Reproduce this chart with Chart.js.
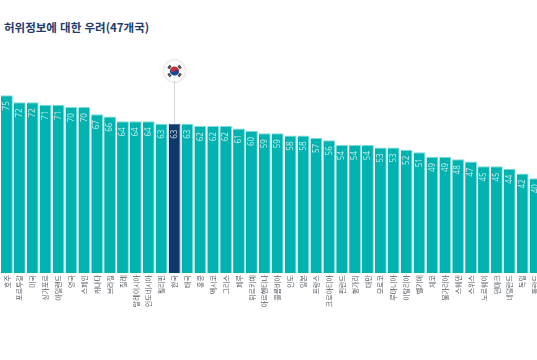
<!DOCTYPE html>
<html lang="ko">
<head>
<meta charset="utf-8">
<style>
html,body{margin:0;padding:0;width:537px;height:360px;overflow:hidden;background:#fff}
#wrap{position:relative;width:537px;height:360px;overflow:hidden}
h1{position:absolute;left:4px;top:19px;margin:0;font:700 11.5px/16px "Noto Sans CJK KR",sans-serif;color:#1f3a6e;white-space:nowrap}
canvas{position:absolute;left:0;top:0}
</style>
<script src="https://cdn.jsdelivr.net/npm/chart.js@4"></script>
</head>
<body>
<div id="wrap">
<h1>허위정보에 대한 우려(47개국)</h1>
<canvas id="c" width="542" height="360" style="width:542px;height:360px"></canvas>
</div>
<script>
const categories = ['호주','포르투갈','미국','싱가포르','아일랜드','영국','스페인','캐나다','브라질','칠레','말레이시아','인도네시아','필리핀','한국','태국','홍콩','멕시코','그리스','페루','튀르키예','아르헨티나','콜롬비아','인도','일본','프랑스','크로아티아','핀란드','헝가리','대만','모로코','루마니아','이탈리아','벨기에','체코','불가리아','스웨덴','스위스','노르웨이','덴마크','네덜란드','독일','폴란드'];
const values = [75,72,72,71,71,70,70,67,66,64,64,64,63,63,63,62,62,62,61,60,59,59,58,58,57,56,54,54,54,53,53,52,51,49,49,48,47,45,45,44,42,40];
const highlight = '한국';
const TEAL = '#00b3b0', NAVY = '#0d3a6a';

const barLabels = {
  id:'barLabels',
  afterDatasetsDraw(chart){
    const {ctx} = chart, meta = chart.getDatasetMeta(0);
    ctx.save();
    ctx.font = '8px "Noto Sans", sans-serif';
    ctx.fillStyle = 'rgba(255,255,255,0.75)';
    ctx.textAlign = 'right';
    ctx.textBaseline = 'middle';
    meta.data.forEach((bar,i)=>{
      ctx.save();
      ctx.translate(bar.x, bar.y + 6);
      ctx.rotate(-Math.PI/2);
      ctx.fillText(String(values[i]), 0, 0);
      ctx.restore();
    });
    ctx.restore();
  }
};

const flagMarker = {
  id:'flagMarker',
  afterDatasetsDraw(chart){
    const {ctx} = chart, meta = chart.getDatasetMeta(0);
    const bar = meta.data[categories.indexOf(highlight)];
    const x = bar.x, cy = 71, r = 10.5;
    ctx.save();
    ctx.strokeStyle = '#d5d7da';
    ctx.lineWidth = 1;
    ctx.beginPath(); ctx.moveTo(x, cy + r); ctx.lineTo(x, bar.y); ctx.stroke();
    ctx.shadowColor = 'rgba(0,0,0,0.25)'; ctx.shadowBlur = 3;
    ctx.fillStyle = '#fff';
    ctx.beginPath(); ctx.arc(x, cy, r, 0, Math.PI*2); ctx.fill();
    ctx.shadowBlur = 0;
    const t = 4.6, a = Math.atan2(2,3);
    ctx.translate(x, cy);
    ctx.save();
    ctx.rotate(a);
    ctx.fillStyle = '#cd2e3a';
    ctx.beginPath(); ctx.arc(0,0,t,Math.PI,0); ctx.fill();
    ctx.fillStyle = '#0f4c9c';
    ctx.beginPath(); ctx.arc(0,0,t,0,Math.PI); ctx.fill();
    ctx.fillStyle = '#cd2e3a';
    ctx.beginPath(); ctx.arc(-t/2,0,t/2,0,Math.PI*2); ctx.fill();
    ctx.fillStyle = '#0f4c9c';
    ctx.beginPath(); ctx.arc(t/2,0,t/2,0,Math.PI*2); ctx.fill();
    ctx.restore();
    ctx.strokeStyle = '#333';
    ctx.lineWidth = 1.1;
    [[-1,-1],[1,-1],[-1,1],[1,1]].forEach(([sx,sy])=>{
      ctx.save();
      ctx.rotate(Math.atan2(sy*5,sx*6.4));
      [5.9,7.1].forEach(d=>{
        ctx.beginPath(); ctx.moveTo(d,-1.9); ctx.lineTo(d,1.9); ctx.stroke();
      });
      ctx.restore();
    });
    ctx.restore();
  }
};

new Chart(document.getElementById('c'),{
  type:'bar',
  data:{
    labels:categories,
    datasets:[{
      data:values,
      backgroundColor:categories.map(c=>c===highlight?NAVY:TEAL),
      borderColor:categories.map(c=>c===highlight?'#2f5c8c':'#7fdcd8'),
      borderWidth:{top:1,right:1,left:0,bottom:0},
      borderSkipped:false,
      categoryPercentage:1,
      barPercentage:0.92
    }]
  },
  plugins:[barLabels,flagMarker],
  options:{
    responsive:false,
    animation:false,
    devicePixelRatio:1,
    layout:{padding:{top:36,left:0.5,right:0,bottom:0}},
    plugins:{legend:{display:false},tooltip:{enabled:false},title:{display:false}},
    scales:{
      x:{
        grid:{display:false,drawTicks:false},
        border:{display:false},
        afterFit(s){s.height=87;s.paddingLeft=0;s.paddingRight=0;},
        ticks:{
          autoSkip:false,minRotation:90,maxRotation:90,padding:2,
          color:'#555b63',
          font:{size:7,family:'"Noto Sans CJK KR", sans-serif'}
        }
      },
      y:{display:false,min:0,max:100}
    }
  }
});
</script>
</body>
</html>
